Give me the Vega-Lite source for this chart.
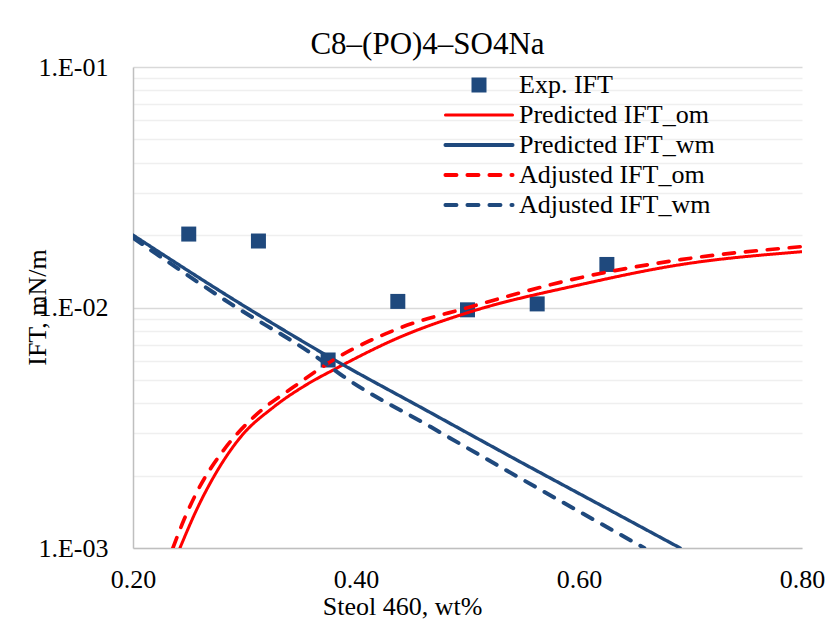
{
  "$schema": "https://vega.github.io/schema/vega-lite/v6.json",
  "width": 669,
  "height": 481,
  "autosize": {"type": "none"},
  "padding": {"left": 133, "top": 67, "right": 30, "bottom": 77},
  "background": "white",
  "config": {"view": {"stroke": null}, "font": "Liberation Serif"},
  "title": {"text": "C8–(PO)4–SO4Na", "fontSize": 31, "font": "Liberation Serif", "fontWeight": "normal", "color": "black", "anchor": "middle", "dx": -40, "dy": 43, "baseline": "alphabetic", "offset": 12},
  "data": {"values": [
    {"series": "Exp. IFT", "x": 0.25, "y": 0.0202},
    {"series": "Exp. IFT", "x": 0.3125, "y": 0.0189},
    {"series": "Exp. IFT", "x": 0.375, "y": 0.00605},
    {"series": "Exp. IFT", "x": 0.4375, "y": 0.0106},
    {"series": "Exp. IFT", "x": 0.5, "y": 0.00978},
    {"series": "Exp. IFT", "x": 0.5625, "y": 0.01035},
    {"series": "Exp. IFT", "x": 0.625, "y": 0.0151},

    {"series": "Predicted IFT_om", "x": 0.2421, "y": 0.0010},
    {"series": "Predicted IFT_om", "x": 0.2582, "y": 0.00148},
    {"series": "Predicted IFT_om", "x": 0.2725, "y": 0.00198},
    {"series": "Predicted IFT_om", "x": 0.2967, "y": 0.00290},
    {"series": "Predicted IFT_om", "x": 0.3263, "y": 0.00386},
    {"series": "Predicted IFT_om", "x": 0.3567, "y": 0.00481},
    {"series": "Predicted IFT_om", "x": 0.380, "y": 0.00551},
    {"series": "Predicted IFT_om", "x": 0.440, "y": 0.00755},
    {"series": "Predicted IFT_om", "x": 0.500, "y": 0.00951},
    {"series": "Predicted IFT_om", "x": 0.601, "y": 0.01244},
    {"series": "Predicted IFT_om", "x": 0.691, "y": 0.01507},
    {"series": "Predicted IFT_om", "x": 0.800, "y": 0.01706},

    {"series": "Predicted IFT_wm", "x": 0.2, "y": 0.0200},
    {"series": "Predicted IFT_wm", "x": 0.2994, "y": 0.01016},
    {"series": "Predicted IFT_wm", "x": 0.3773, "y": 0.00618},
    {"series": "Predicted IFT_wm", "x": 0.4624, "y": 0.00375},
    {"series": "Predicted IFT_wm", "x": 0.5474, "y": 0.00228},
    {"series": "Predicted IFT_wm", "x": 0.6191, "y": 0.00151},
    {"series": "Predicted IFT_wm", "x": 0.6907, "y": 0.0010},

    {"series": "Adjusted IFT_om", "x": 0.2358, "y": 0.0010},
    {"series": "Adjusted IFT_om", "x": 0.2457, "y": 0.00131},
    {"series": "Adjusted IFT_om", "x": 0.2582, "y": 0.00174},
    {"series": "Adjusted IFT_om", "x": 0.2815, "y": 0.00256},
    {"series": "Adjusted IFT_om", "x": 0.3084, "y": 0.00351},
    {"series": "Adjusted IFT_om", "x": 0.3442, "y": 0.00468},
    {"series": "Adjusted IFT_om", "x": 0.380, "y": 0.00606},
    {"series": "Adjusted IFT_om", "x": 0.440, "y": 0.00824},
    {"series": "Adjusted IFT_om", "x": 0.500, "y": 0.00998},
    {"series": "Adjusted IFT_om", "x": 0.601, "y": 0.01330},
    {"series": "Adjusted IFT_om", "x": 0.691, "y": 0.01581},
    {"series": "Adjusted IFT_om", "x": 0.800, "y": 0.01791},

    {"series": "Adjusted IFT_wm", "x": 0.2, "y": 0.0195},
    {"series": "Adjusted IFT_wm", "x": 0.2878, "y": 0.01035},
    {"series": "Adjusted IFT_wm", "x": 0.3657, "y": 0.00618},
    {"series": "Adjusted IFT_wm", "x": 0.389, "y": 0.00516},
    {"series": "Adjusted IFT_wm", "x": 0.4669, "y": 0.00319},
    {"series": "Adjusted IFT_wm", "x": 0.5448, "y": 0.00198},
    {"series": "Adjusted IFT_wm", "x": 0.6585, "y": 0.0010}
  ]},
  "encoding": {
    "x": {
      "field": "x", "type": "quantitative",
      "scale": {"domain": [0.2, 0.8], "nice": false, "zero": false},
      "axis": {
        "values": [0.2, 0.4, 0.6, 0.8], "format": ".2f", "grid": false,
        "ticks": false, "domainColor": "#bfbfbf", "domainWidth": 1.5,
        "labelFont": "Liberation Serif", "labelFontSize": 26, "labelColor": "black", "labelPadding": 18,
        "labelFlush": false, "labelOverlap": false,
        "title": "Steol 460, wt%", "titleFont": "Liberation Serif", "titleFontSize": 26, "titleFontWeight": "normal", "titleColor": "black",
        "titleX": 269, "titleY": 66, "titleAlign": "center", "titleBaseline": "alphabetic"
      }
    },
    "y": {
      "field": "y", "type": "quantitative",
      "scale": {"type": "log", "domain": [0.001, 0.1], "nice": false},
      "axis": {
        "values": [0.001, 0.002, 0.003, 0.004, 0.005, 0.006, 0.007, 0.008, 0.009, 0.01, 0.02, 0.03, 0.04, 0.05, 0.06, 0.07, 0.08, 0.09, 0.1],
        "labelExpr": "datum.value > 0.099 ? '1.E-01' : (datum.value > 0.0099 && datum.value < 0.0101) ? '1.E-02' : datum.value < 0.00101 ? '1.E-03' : ''",
        "ticks": false, "domainColor": "#bfbfbf", "domainWidth": 1.5,
        "grid": true, "gridWidth": 1.5,
        "gridColor": {"condition": {"test": "(datum.value > 0.0099 && datum.value < 0.0101) || datum.value > 0.099", "value": "#d9d9d9"}, "value": "#efefef"},
        "labelFont": "Liberation Serif", "labelFontSize": 26, "labelColor": "black", "labelPadding": 25,
        "labelFlush": false, "labelOverlap": false,
        "title": "IFT, mN/m", "titleFont": "Liberation Serif", "titleFontSize": 26, "titleFontWeight": "normal", "titleColor": "black",
        "titleX": -88, "titleY": 240, "titleAlign": "center", "titleBaseline": "alphabetic", "titleAngle": 270
      }
    },
    "color": {
      "field": "series", "type": "nominal",
      "scale": {
        "domain": ["Exp. IFT", "Predicted IFT_om", "Predicted IFT_wm", "Adjusted IFT_om", "Adjusted IFT_wm"],
        "range": ["#1f497d", "#ff0000", "#1f497d", "#ff0000", "#1f497d"]
      },
      "legend": {
        "orient": "none", "legendX": 333, "legendY": 5, "title": null,
        "symbolSize": 225, "labelFont": "Liberation Serif", "labelFontSize": 26, "labelColor": "black",
        "labelOffset": 27, "rowPadding": 4, "padding": 0, "labelLimit": 400,
        "encode": {
          "symbols": {
            "update": {
              "shape": {"signal": "datum.value === 'Exp. IFT' ? 'square' : 'stroke'"},
              "size": {"signal": "datum.value === 'Exp. IFT' ? 225 : 4500"},
              "strokeWidth": {"signal": "datum.value === 'Exp. IFT' ? 0 : (datum.value === 'Predicted IFT_om' ? 3 : 4)"},
              "strokeDash": {"signal": "indexof(datum.value, 'Adjusted') === 0 ? [11, 11] : [1, 0]"},
              "fill": {"signal": "datum.value === 'Exp. IFT' ? '#1f497d' : 'transparent'"},
              "stroke": {"signal": "datum.value === 'Exp. IFT' ? 'transparent' : (indexof(datum.value, '_om') > 0 ? '#ff0000' : '#1f497d')"},
              "strokeCap": {"value": "round"},
              "opacity": {"value": 1}
            }
          }
        }
      }
    }
  },
  "layer": [
    {
      "transform": [{"filter": "datum.series === 'Exp. IFT'"}],
      "mark": {"type": "point", "shape": "square", "filled": true, "size": 225, "opacity": 1, "clip": true}
    },
    {
      "transform": [{"filter": "datum.series !== 'Exp. IFT'"}],
      "mark": {"type": "line", "strokeCap": "round", "interpolate": "monotone", "clip": true},
      "encoding": {
        "strokeDash": {
          "field": "series", "type": "nominal",
          "scale": {"domain": ["Predicted IFT_om", "Predicted IFT_wm", "Adjusted IFT_om", "Adjusted IFT_wm"], "range": [[1, 0], [1, 0], [11, 11], [11, 11]]},
          "legend": null
        },
        "strokeWidth": {
          "field": "series", "type": "nominal",
          "scale": {"domain": ["Predicted IFT_om", "Predicted IFT_wm", "Adjusted IFT_om", "Adjusted IFT_wm"], "range": [3, 4, 4, 4]},
          "legend": null
        }
      }
    }
  ]
}
